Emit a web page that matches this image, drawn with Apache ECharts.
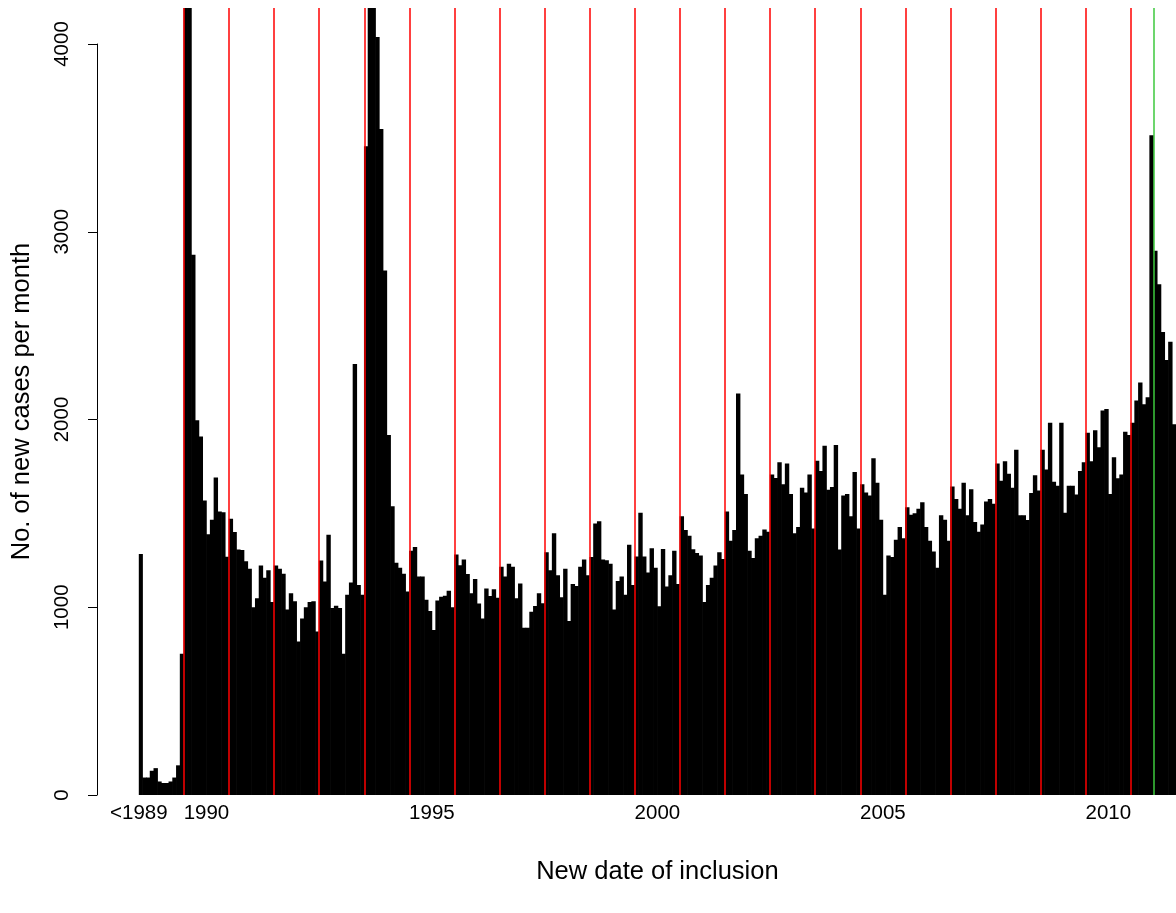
<!DOCTYPE html>
<html>
<head>
<meta charset="utf-8">
<title>New cases per month</title>
<script src="https://cdn.jsdelivr.net/npm/echarts@6/dist/echarts.min.js"></script>
<style>
html, body { margin: 0; padding: 0; background: #fff; }
#chart { width: 1176px; height: 913px; }
</style>
</head>
<body>
<div id="chart"></div>
<script>
// monthly counts (first bar is "<1989")
var before1990 = [1283, 93, 93, 129, 143, 72, 64, 64, 72, 93, 158, 752];
var y1990 = [5200, 4900, 2876, 1995, 1908, 1568, 1388, 1466, 1690, 1510, 1505, 1268];
var y1991 = [1471, 1400, 1307, 1305, 1244, 1204, 1000, 1047, 1222, 1157, 1197, 1027];
var y1992 = [1222, 1204, 1178, 988, 1074, 1031, 817, 940, 1000, 1027, 1031, 870];
var y1993 = [1249, 1137, 1385, 995, 1008, 995, 752, 1066, 1131, 2295, 1118, 1066];
var y1994 = [3454, 4800, 4600, 4035, 3546, 2793, 1916, 1537, 1236, 1210, 1178, 1084];
var y1995 = [1301, 1320, 1163, 1163, 1040, 980, 878, 1035, 1055, 1061, 1087, 1000];
var y1996 = [1280, 1223, 1254, 1176, 1074, 1150, 1019, 940, 1100, 1060, 1095, 1050];
var y1997 = [1215, 1163, 1231, 1215, 1048, 1126, 891, 891, 975, 1006, 1074, 1021];
var y1998 = [1292, 1197, 1393, 1170, 1053, 1204, 927, 1123, 1113, 1215, 1254, 1170];
var y1999 = [1267, 1445, 1458, 1254, 1250, 1231, 987, 1139, 1163, 1066, 1332, 1118];
var y2000 = [1270, 1503, 1270, 1184, 1314, 1210, 1005, 1310, 1110, 1170, 1300, 1123];
var y2001 = [1484, 1411, 1380, 1309, 1288, 1275, 1027, 1118, 1157, 1222, 1292, 1257];
var y2002 = [1510, 1354, 1411, 2138, 1707, 1602, 1301, 1262, 1367, 1380, 1414, 1401];
var y2003 = [1707, 1688, 1772, 1655, 1765, 1602, 1393, 1427, 1636, 1610, 1707, 1419];
var y2004 = [1780, 1725, 1860, 1625, 1640, 1864, 1307, 1594, 1602, 1484, 1720, 1419];
var y2005 = [1655, 1610, 1594, 1793, 1663, 1466, 1066, 1275, 1267, 1359, 1427, 1367];
var y2006 = [1532, 1492, 1500, 1524, 1558, 1427, 1354, 1296, 1210, 1490, 1466, 1354];
var y2007 = [1642, 1576, 1524, 1663, 1490, 1628, 1453, 1401, 1440, 1563, 1576, 1550];
var y2008 = [1765, 1673, 1777, 1711, 1636, 1838, 1490, 1490, 1464, 1608, 1702, 1621];
var y2009 = [1838, 1733, 1982, 1668, 1647, 1982, 1503, 1647, 1647, 1600, 1725, 1772];
var y2010 = [1929, 1777, 1942, 1851, 2047, 2055, 1602, 1798, 1686, 1707, 1934, 1916];
var y2011 = [1982, 2100, 2196, 2081, 2117, 3512, 2897, 2719, 2465, 2316, 2413, 1974];

var firstYear = 1990, lastYear = 2011;
var tickLabels = ["<1989", "1990", "1995", "2000", "2005", "2010"];
var tickMonths = [0, 18, 78, 138, 198, 258];   // month index where each label sits
var greenAt = "2011-07";                        // start of the green marker month

var counts = before1990.concat(y1990, y1991, y1992, y1993, y1994, y1995, y1996,
    y1997, y1998, y1999, y2000, y2001, y2002, y2003, y2004, y2005, y2006,
    y2007, y2008, y2009, y2010, y2011);

var months = ["<1989"];
for (var m = 2; m <= 12; m++) months.push("1989-" + (m < 10 ? "0" + m : m));
for (var yr = firstYear; yr <= lastYear; yr++) {
    for (m = 1; m <= 12; m++) months.push(yr + "-" + (m < 10 ? "0" + m : m));
}

var lines = [];
for (yr = firstYear; yr <= lastYear; yr++) {
    lines.push({ xAxis: months.indexOf(yr + "-01") });
}
lines.push({ xAxis: months.indexOf(greenAt), lineStyle: { color: "#3cc83c" } });

var font = "'Liberation Sans', Arial, Helvetica, sans-serif";

var option = {
    animation: false,
    backgroundColor: "#fff",
    textStyle: { fontFamily: font },
    grid: [
        { left: 138.8, right: -2.5, top: 8, bottom: 118 },
        { left: 97, width: 1, top: 44, bottom: 118 }
    ],
    xAxis: [
        {
            type: "category", gridIndex: 0, data: months,
            show: false
        },
        {
            type: "value", gridIndex: 0, min: 0, max: months.length,
            position: "bottom",
            axisLine: { show: false }, axisTick: { show: false }, splitLine: { show: false },
            axisLabel: {
                customValues: tickMonths,
                formatter: function (v) { return tickLabels[tickMonths.indexOf(v)]; },
                color: "#000", fontSize: 20.5, margin: 8, fontFamily: font
            },
            name: "New date of inclusion", nameLocation: "middle", nameGap: 64,
            nameTextStyle: { color: "#000", fontSize: 25.5, fontFamily: font }
        },
        { type: "value", gridIndex: 1, show: false, min: 0, max: 1 }
    ],
    yAxis: [
        {
            type: "value", gridIndex: 0, min: 0, max: 4190,
            axisLine: { show: false }, axisTick: { show: false },
            axisLabel: { show: false }, splitLine: { show: false },
            name: "No. of new cases per month", nameLocation: "middle", nameGap: 104,
            nameRotate: 90,
            nameTextStyle: { color: "#000", fontSize: 25.5, fontFamily: font }
        },
        {
            type: "value", gridIndex: 1, min: 0, max: 4000, interval: 1000,
            axisLine: { show: true, lineStyle: { color: "#000", width: 1 } },
            axisTick: { show: true, length: 9, lineStyle: { color: "#000" } },
            splitLine: { show: false },
            axisLabel: {
                rotate: 90, color: "#000", fontSize: 20.5, margin: 24, fontFamily: font,
                formatter: function (v) { return String(v); }
            }
        }
    ],
    series: [
        {
            type: "bar", xAxisIndex: 0, yAxisIndex: 0,
            data: counts,
            barWidth: 4.4,
            itemStyle: { color: "#000" },
            silent: true
        },
        {
            type: "line", xAxisIndex: 1, yAxisIndex: 0,
            data: [[0, 0]], symbol: "none", lineStyle: { opacity: 0 },
            silent: true, z: 5,
            markLine: {
                silent: true, symbol: ["none", "none"],
                label: { show: false },
                lineStyle: { color: "#ff0000", type: "solid", width: 1.5 },
                data: lines
            }
        }
    ]
};

var myChart = echarts.init(document.getElementById("chart"));
myChart.setOption(option);
</script>
</body>
</html>
